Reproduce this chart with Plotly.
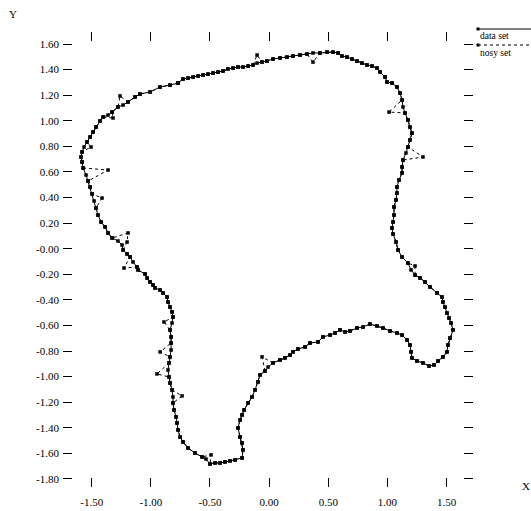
import plotly.graph_objects as go

# ---- data set (closed curve) ----
data_x = [-0.770, -0.728, -0.686, -0.643, -0.601, -0.559, -0.517, -0.474, -0.432, -0.390,
          -0.348, -0.305, -0.263, -0.221, -0.178, -0.136, -0.102, -0.060, -0.018, 0.033,
          0.092, 0.151, 0.202, 0.261, 0.320, 0.371, 0.430, 0.490, 0.540, 0.583,
          0.616, 0.659, 0.701, 0.743, 0.785, 0.828, 0.870, 0.912, 0.938, 0.980,
          0.997, 1.039, 1.081, 1.107, 1.124, 1.132, 1.149, 1.174, 1.191, 1.208,
          1.191, 1.174, 1.157, 1.132, 1.124, 1.124, 1.098, 1.081, 1.081, 1.073,
          1.056, 1.056, 1.048, 1.039, 1.048, 1.073, 1.090, 1.124, 1.174, 1.200,
          1.234, 1.276, 1.318, 1.360, 1.420, 1.462, 1.470, 1.487, 1.504, 1.521,
          1.538, 1.555, 1.529, 1.512, 1.504, 1.470, 1.428, 1.394, 1.352, 1.301,
          1.250, 1.208, 1.200, 1.191, 1.166, 1.124, 1.081, 1.022, 0.963, 0.912,
          0.853, 0.794, 0.743, 0.684, 0.642, 0.599, 0.557, 0.515, 0.456, 0.413,
          0.346, 0.304, 0.244, 0.202, 0.177, 0.134, 0.092, 0.033, -0.009, -0.035,
          -0.077, -0.094, -0.119, -0.145, -0.178, -0.212, -0.229, -0.246, -0.263, -0.246,
          -0.229, -0.221, -0.229, -0.288, -0.331, -0.373, -0.415, -0.457, -0.500, -0.534,
          -0.567, -0.627, -0.686, -0.728, -0.753, -0.770, -0.779, -0.787, -0.804, -0.813,
          -0.813, -0.821, -0.838, -0.846, -0.855, -0.846, -0.838, -0.829, -0.829, -0.829,
          -0.838, -0.821, -0.813, -0.821, -0.838, -0.855, -0.863, -0.897, -0.922, -0.965,
          -0.982, -1.007, -1.032, -1.049, -1.108, -1.117, -1.151, -1.176, -1.201, -1.235,
          -1.244, -1.278, -1.328, -1.362, -1.387, -1.421, -1.447, -1.464, -1.480, -1.497,
          -1.514, -1.531, -1.548, -1.573, -1.582, -1.590, -1.582, -1.565, -1.540, -1.514,
          -1.489, -1.464, -1.430, -1.404, -1.362, -1.328, -1.278, -1.235, -1.193, -1.134,
          -1.092, -1.007, -0.922, -0.838, -0.770]
data_y = [1.295, 1.326, 1.334, 1.342, 1.350, 1.358, 1.365, 1.373, 1.381, 1.389,
          1.405, 1.412, 1.420, 1.420, 1.428, 1.436, 1.451, 1.459, 1.467, 1.483,
          1.491, 1.498, 1.506, 1.514, 1.522, 1.530, 1.530, 1.537, 1.537, 1.530,
          1.506, 1.498, 1.483, 1.467, 1.451, 1.436, 1.428, 1.412, 1.381, 1.342,
          1.303, 1.295, 1.264, 1.217, 1.162, 1.108, 1.061, 1.006, 0.951, 0.904,
          0.850, 0.795, 0.748, 0.693, 0.639, 0.592, 0.537, 0.482, 0.435, 0.381,
          0.326, 0.263, 0.209, 0.162, 0.115, 0.052, -0.010, -0.065, -0.112, -0.166,
          -0.206, -0.229, -0.260, -0.299, -0.346, -0.378, -0.417, -0.456, -0.503, -0.542,
          -0.581, -0.635, -0.698, -0.753, -0.807, -0.846, -0.878, -0.909, -0.917, -0.893,
          -0.878, -0.854, -0.807, -0.753, -0.714, -0.675, -0.659, -0.643, -0.620, -0.604,
          -0.589, -0.612, -0.620, -0.643, -0.651, -0.635, -0.659, -0.675, -0.690, -0.729,
          -0.737, -0.768, -0.784, -0.807, -0.831, -0.854, -0.870, -0.893, -0.925, -0.956,
          -0.987, -1.042, -1.104, -1.159, -1.206, -1.261, -1.300, -1.339, -1.401, -1.472,
          -1.519, -1.573, -1.636, -1.652, -1.659, -1.667, -1.675, -1.675, -1.683, -1.644,
          -1.628, -1.597, -1.558, -1.511, -1.472, -1.417, -1.362, -1.315, -1.261, -1.206,
          -1.159, -1.104, -1.050, -1.003, -0.948, -0.893, -0.846, -0.792, -0.737, -0.690,
          -0.635, -0.581, -0.534, -0.495, -0.456, -0.417, -0.378, -0.346, -0.323, -0.307,
          -0.284, -0.260, -0.229, -0.198, -0.166, -0.143, -0.104, -0.065, -0.041, -0.010,
          0.029, 0.060, 0.084, 0.123, 0.170, 0.209, 0.263, 0.318, 0.373, 0.428,
          0.482, 0.529, 0.576, 0.631, 0.678, 0.717, 0.756, 0.795, 0.834, 0.873,
          0.912, 0.951, 0.998, 1.029, 1.045, 1.068, 1.108, 1.123, 1.147, 1.186,
          1.209, 1.225, 1.264, 1.279, 1.295]

# ---- nosy set: same points, with these displaced ones (original -> noisy) ----
noise_from_x = [-0.102, 0.371, 1.132, 1.157, 1.200, -1.548, -1.362, -1.235, -1.565, -1.480,
                -1.278, -1.244, -1.151, -0.821, -0.829, -0.855, -0.813, -0.534, -0.009]
noise_from_y = [1.451, 1.530, 1.108, 0.748, -0.166, 0.576, 1.045, 1.123, 0.795, 0.373,
                0.060, 0.029, -0.104, -0.581, -0.792, -0.948, -1.159, -1.644, -0.925]
noise_to_x = [-0.102, 0.371, 1.014, 1.301, 1.234, -1.362, -1.320, -1.261, -1.506, -1.413,
              -1.193, -1.201, -1.227, -0.889, -0.922, -0.948, -0.736, -0.491, -0.060]
noise_to_y = [1.514, 1.459, 1.068, 0.717, -0.135, 0.615, 1.022, 1.194, 0.795, 0.396,
              0.123, 0.052, -0.151, -0.573, -0.807, -0.979, -1.151, -1.612, -0.846]

nosy_x = list(data_x)
nosy_y = list(data_y)
for fx, fy, tx, ty in zip(noise_from_x, noise_from_y, noise_to_x, noise_to_y):
    for i in range(len(nosy_x)):
        if nosy_x[i] == fx and nosy_y[i] == fy:
            nosy_x[i] = tx
            nosy_y[i] = ty

# ---- ticks ----
x_ticks = [-1.5, -1.0, -0.5, 0.0, 0.5, 1.0, 1.5]
x_tick_text = ["-1.50", "-1.00", "-0.50", "0.00", "0.50", "1.00", "1.50"]
y_ticks = [1.6, 1.4, 1.2, 1.0, 0.8, 0.6, 0.4, 0.2, 0.0, -0.2, -0.4, -0.6, -0.8,
           -1.0, -1.2, -1.4, -1.6, -1.8]
y_tick_text = ["1.60", "1.40", "1.20", "1.00", "0.80", "0.60", "0.40", "0.20", "-0.00",
               "-0.20", "-0.40", "-0.60", "-0.80", "-1.00", "-1.20", "-1.40", "-1.60", "-1.80"]

series_names = ["data set", "nosy set"]

FONT = "Liberation Serif"
W, H = 531, 511
L, R, T, B = 63, 58, 32, 24
PW, PH = W - L - R, H - T - B


def px(xp):
    return (xp - L) / PW


def py(yp):
    return (H - B - yp) / PH


fig = go.Figure()
fig.add_trace(go.Scatter(x=data_x, y=data_y, mode="lines+markers", name=series_names[0],
                         line=dict(color="black", width=1),
                         marker=dict(symbol="square", size=3.5, color="black"),
                         showlegend=False))
fig.add_trace(go.Scatter(x=nosy_x, y=nosy_y, mode="lines+markers", name=series_names[1],
                         line=dict(color="black", width=1, dash="dot"),
                         marker=dict(symbol="square", size=3.5, color="black"),
                         showlegend=False))

axis_common = dict(showline=False, showgrid=False, zeroline=False, ticks="inside",
                   ticklen=9, tickwidth=1, tickcolor="black", mirror="ticks",
                   automargin=False,
                   tickfont=dict(family=FONT, size=11, color="black"))
fig.update_xaxes(range=[-1.743, 1.724], tickvals=x_ticks, ticktext=x_tick_text,
                 ticklabelstandoff=7, **axis_common)
fig.update_yaxes(range=[-1.863, 1.694], tickvals=y_ticks, ticktext=y_tick_text,
                 ticklabelstandoff=3, **axis_common)

# legend drawn by hand (top right, outside plot box)
shapes = [
    dict(type="line", xref="paper", yref="paper", x0=px(478), x1=px(531), y0=py(29), y1=py(29),
         line=dict(color="black", width=1)),
    dict(type="line", xref="paper", yref="paper", x0=px(478), x1=px(531), y0=py(45), y1=py(45),
         line=dict(color="black", width=1, dash="dot")),
    dict(type="rect", xref="paper", yref="paper", x0=px(476.5), x1=px(479.5), y0=py(27.5), y1=py(30.5),
         fillcolor="black", line=dict(width=0)),
    dict(type="rect", xref="paper", yref="paper", x0=px(476.5), x1=px(479.5), y0=py(43.5), y1=py(46.5),
         fillcolor="black", line=dict(width=0)),
]
annotations = [
    dict(text=series_names[0], xref="paper", yref="paper", x=px(478), y=py(36), xanchor="left",
         yanchor="middle", showarrow=False, font=dict(family=FONT, size=9.5, color="black")),
    dict(text=series_names[1], xref="paper", yref="paper", x=px(478), y=py(53), xanchor="left",
         yanchor="middle", showarrow=False, font=dict(family=FONT, size=9.5, color="black")),
    dict(text="Y", xref="paper", yref="paper", x=px(13), y=py(14), xanchor="center",
         yanchor="middle", showarrow=False, font=dict(family=FONT, size=11, color="black")),
    dict(text="X", xref="paper", yref="paper", x=px(526), y=py(486), xanchor="center",
         yanchor="middle", showarrow=False, font=dict(family=FONT, size=11, color="black")),
]

fig.update_layout(width=W, height=H, margin=dict(l=L, r=R, t=T, b=B, pad=0, autoexpand=False),
                  paper_bgcolor="white", plot_bgcolor="white", showlegend=False,
                  shapes=shapes, annotations=annotations)

fig.write_html("out.html")
